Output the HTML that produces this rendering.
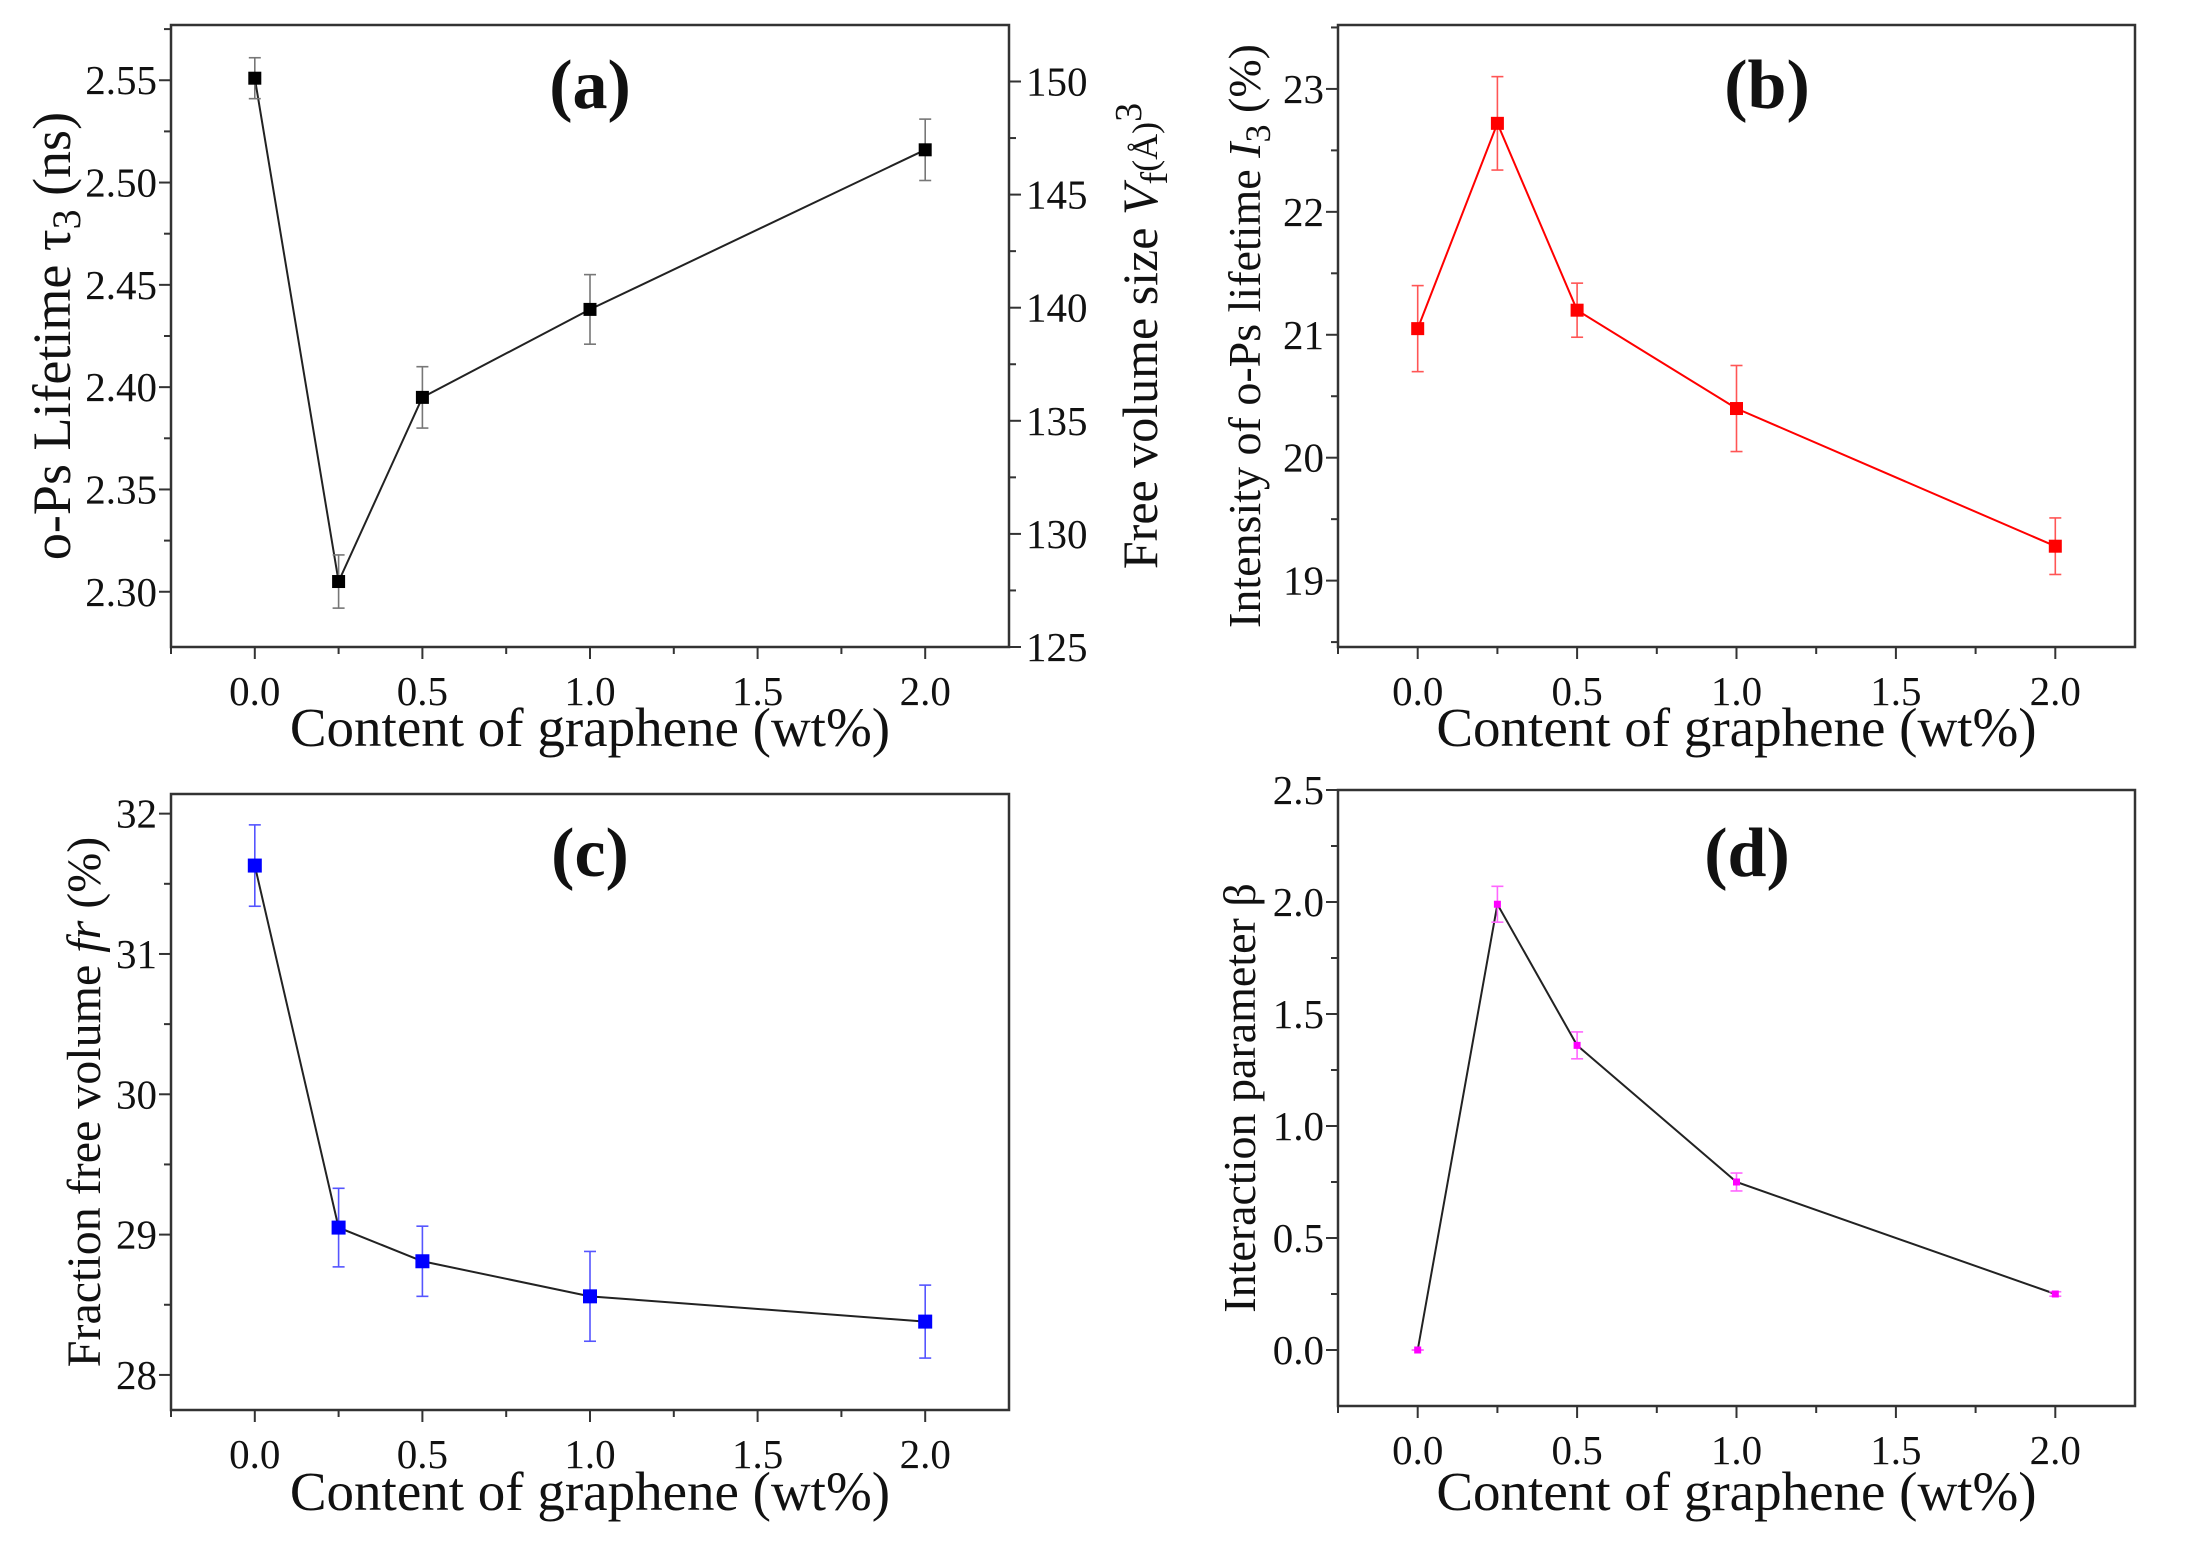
<!DOCTYPE html>
<html><head><meta charset="utf-8"><style>
html,body{margin:0;padding:0;background:#fff}
svg{display:block}
text{font-family:"Liberation Serif",serif;fill:#111}
</style></head><body>
<svg id="s" width="2204" height="1546" viewBox="0 0 2204 1546" xmlns="http://www.w3.org/2000/svg"></svg>
<script>
const S=document.getElementById('s');let h='';
function panel(o){
 const {L,R,T,B,ymin,ymax,yt,ydec,ym,data,col,ms,lab,lx,ly,ylab,ylx,xlabY,lcol,yfs}=o;
 const X=v=>L+(v+0.25)/2.5*(R-L), Y=v=>B-(v-ymin)/(ymax-ymin)*(B-T);
 h+=`<rect x="${L}" y="${T}" width="${R-L}" height="${B-T}" fill="none" stroke="#333" stroke-width="2.5"/>`;
 for(let i=0;i<=9;i++){const v=-0.25+i*0.25,x=X(v),maj=(i%2==1);
  h+=`<line x1="${x}" y1="${B}" x2="${x}" y2="${B+(maj?12:7)}" stroke="#333" stroke-width="2"/>`;
  if(maj)h+=`<text x="${x}" y="${B+58}" font-size="41" text-anchor="middle">${v.toFixed(1)}</text>`;}
 yt.forEach(v=>{const y=Y(v);h+=`<line x1="${L}" y1="${y}" x2="${L-12}" y2="${y}" stroke="#333" stroke-width="2"/><text x="${L-14}" y="${y+14}" font-size="41" text-anchor="end">${v.toFixed(ydec)}</text>`;});
 ym.forEach(v=>{const y=Y(v);h+=`<line x1="${L}" y1="${y}" x2="${L-7}" y2="${y}" stroke="#333" stroke-width="2"/>`;});
 h+=`<polyline fill="none" stroke="${lcol}" stroke-width="2" points="${data.map(d=>X(d[0])+','+Y(d[1])).join(' ')}"/>`;
 data.forEach(d=>{const x=X(d[0]);const y1=Y(d[1]+d[2]),y2=Y(d[1]-d[2]);
  h+=`<g stroke="${o.ecol}" stroke-width="1.6"><line x1="${x}" y1="${y1}" x2="${x}" y2="${y2}"/><line x1="${x-6}" y1="${y1}" x2="${x+6}" y2="${y1}"/><line x1="${x-6}" y1="${y2}" x2="${x+6}" y2="${y2}"/></g>`;
  h+=`<rect x="${x-ms/2}" y="${Y(d[1])-ms/2}" width="${ms}" height="${ms}" fill="${col}"/>`;});
 h+=`<text x="${lx}" y="${ly}" font-size="70" font-weight="bold" text-anchor="middle">${lab}</text>`;
 h+=`<text x="${(L+R)/2}" y="${xlabY}" font-size="55" text-anchor="middle">Content of graphene (wt%)</text>`;
 h+=`<text transform="translate(${ylx},${(T+B)/2}) rotate(-90)" font-size="${yfs}" text-anchor="middle">${ylab}</text>`;
}
panel({L:171,R:1009,T:25,B:647,ymin:2.273,ymax:2.577,yt:[2.30,2.35,2.40,2.45,2.50,2.55],ydec:2,ym:[2.325,2.375,2.425,2.475,2.525,2.575],
 data:[[0,2.551,0.01],[0.25,2.305,0.013],[0.5,2.395,0.015],[1,2.438,0.017],[2,2.516,0.015]],col:'#000',ecol:'#777',lcol:'#222',ms:13,lab:'(a)',lx:590,ly:108,
 ylab:'o-Ps Lifetime τ<tspan font-size="40" dy="10">3</tspan><tspan dy="-10"> (ns)</tspan>',ylx:70,xlabY:746,yfs:54});
for(let i=0;i<=10;i++){const v=125+i*2.5,y=647-(v-125)/5*113.1;const maj=i%2==0;
 h+=`<line x1="1009" y1="${y}" x2="${1009+(maj?12:7)}" y2="${y}" stroke="#333" stroke-width="2"/>`;
 if(maj)h+=`<text x="1026" y="${y+14}" font-size="41">${v}</text>`;}
h+=`<text transform="translate(1157,336) rotate(-90)" font-size="50" text-anchor="middle">Free volume size <tspan font-style="italic">V</tspan><tspan font-size="38" dy="10">f</tspan><tspan font-size="36" dy="-10">(Å)</tspan><tspan font-size="38" dy="-16">3</tspan></text>`;
panel({L:1338,R:2135,T:25,B:647,ymin:18.46,ymax:23.52,yt:[19,20,21,22,23],ydec:0,ym:[18.5,19.5,20.5,21.5,22.5,23.5],
 data:[[0,21.05,0.35],[0.25,22.72,0.38],[0.5,21.2,0.22],[1,20.4,0.35],[2,19.28,0.23]],col:'#f00',ecol:'#f55',lcol:'#f00',ms:13,lab:'(b)',lx:1767,ly:108,
 ylab:'Intensity of o-Ps lifetime <tspan font-style="italic">I</tspan><tspan font-size="36" dy="10">3</tspan><tspan dy="-10"> (%)</tspan>',ylx:1260,xlabY:746,yfs:46});
panel({L:171,R:1009,T:794,B:1410,ymin:27.75,ymax:32.14,yt:[28,29,30,31,32],ydec:0,ym:[28.5,29.5,30.5,31.5],
 data:[[0,31.63,0.29],[0.25,29.05,0.28],[0.5,28.81,0.25],[1,28.56,0.32],[2,28.38,0.26]],col:'#00f',ecol:'#55f',lcol:'#222',ms:14,lab:'(c)',lx:590,ly:876,
 ylab:'Fraction free volume <tspan font-style="italic">fr</tspan> (%)',ylx:100,xlabY:1510,yfs:48});
panel({L:1338,R:2135,T:790,B:1406,ymin:-0.25,ymax:2.5,yt:[0,0.5,1,1.5,2,2.5],ydec:1,ym:[0.25,0.75,1.25,1.75,2.25],
 data:[[0,0,0],[0.25,1.99,0.08],[0.5,1.36,0.06],[1,0.75,0.04],[2,0.25,0.01]],col:'#f0f',ecol:'#f6f',lcol:'#222',ms:7,lab:'(d)',lx:1747,ly:876,
 ylab:'Interaction parameter β',ylx:1255,xlabY:1510,yfs:46});
S.innerHTML=h;
</script>
</body></html>
